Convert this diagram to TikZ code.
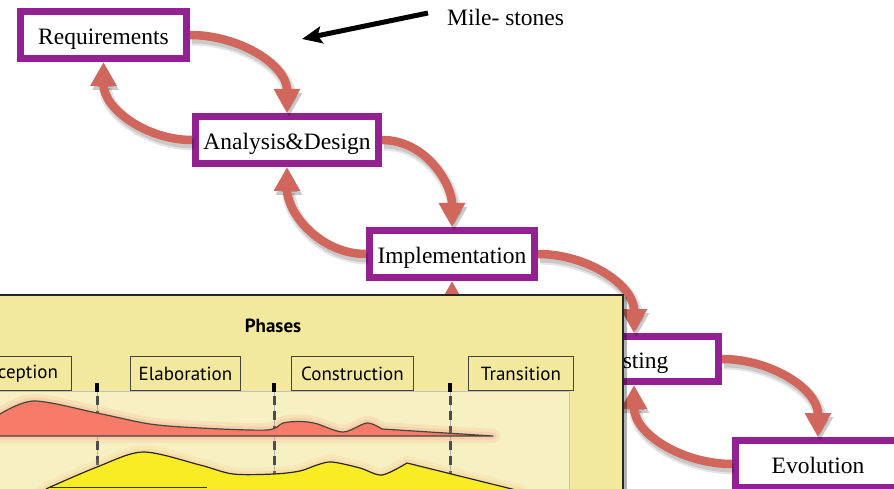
\documentclass[tikz,border=0pt]{standalone}
\usepackage{fontspec}
\setmainfont{Liberation Serif}
\newfontfamily\phasefont{PT Sans}
\usetikzlibrary{arrows.meta}
\definecolor{purp}{RGB}{148,33,145}
\definecolor{redc}{RGB}{208,102,92}
\definecolor{panelc}{RGB}{242,233,158}
\definecolor{innerc}{RGB}{247,240,195}
\definecolor{redfill}{RGB}{248,122,104}
\definecolor{yelfill}{RGB}{250,236,34}
\definecolor{outl}{RGB}{70,70,60}
\begin{document}
\begin{tikzpicture}[x=1pt,y=1pt,
  stage/.style={draw=purp, line width=7pt, fill=white, inner sep=0pt, minimum height=47pt,
    text height=18.5pt, text depth=0pt, font=\fontsize{23.5}{26}\selectfont},
  flow/.style={draw=redc, line width=8.5pt, -{Triangle[length=24pt,width=25pt]},
    preaction={draw=black, opacity=0.10, line width=13pt, transform canvas={shift={(2pt,-4pt)}}},
    preaction={draw=black, opacity=0.12, line width=9pt, transform canvas={shift={(2pt,-4pt)}}}},
  phasebox/.style={draw=outl, line width=1.3pt, fill=panelc, minimum height=33.7pt, inner sep=0pt,
    font=\phasefont\fontsize{19}{21}\selectfont},
  milestone/.style={draw=black, line width=5pt, -{Stealth[length=20pt,width=17pt,inset=4pt]}},
  phaseline/.style={draw=black!70, line width=3pt, dash pattern=on 9pt off 6pt}
]
\useasboundingbox (0,0) rectangle (894,488);

% stages
\node[stage, minimum width=166pt] (req) at (103.5,453) {Requirements};
\node[stage, minimum width=183pt] (ad) at (287,348) {Analysis\&Design};
\node[stage, minimum width=165pt] (impl) at (452,234) {Implementation};
\node[stage, minimum width=169pt, minimum height=45pt] (test) at (634,129) {Testing};
\node[stage, minimum width=165pt] (evo) at (818,24) {Evolution};

% red flow arrows
\draw[flow] (req.east) to[out=0,in=90] (ad.north);
\draw[flow] (ad.west) to[out=180,in=-90] (req.south);
\draw[flow] (ad.east) to[out=0,in=90] (impl.north);
\draw[flow] (impl.west) to[out=180,in=-90] (ad.south);
\draw[flow] (impl.east) to[out=0,in=90] (test.north);
\draw[flow] (test.west) to[out=180,in=-90] (impl.south);
\draw[flow] (test.east) to[out=0,in=90] (evo.north);
\draw[flow] (evo.west) to[out=180,in=-90] (test.south);

% milestones
\node[font=\fontsize{23.5}{26}\selectfont, anchor=west, inner sep=0pt] (ms) at (447,471) {Mile- stones};
\coordinate (msa) at (428,475);
\coordinate (msb) at (302,449);
\draw[milestone] (msa) -- (msb);

% phases panel
\fill[black, opacity=0.3] (-5,-5) rectangle (626.5,191);
\draw[draw=black!85, line width=1.4pt, fill=panelc] (-5,-5) rectangle (623,193);
\draw[draw=black!25, line width=0.6pt, fill=innerc] (-5,-5) rectangle (569,97);
\node[font=\phasefont\bfseries\fontsize{19}{21}\selectfont] (ph) at (273,162) {Phases};

\node[phasebox, minimum width=105.7pt] (inc) at (18.5,114.5) {\hspace*{3pt}Inception};
\node[phasebox, minimum width=109.7pt] (ela) at (185.5,114.5) {Elaboration};
\node[phasebox, minimum width=121.7pt] (con) at (352.5,114.5) {Construction};
\node[phasebox, minimum width=104.7pt] (tra) at (521,114.5) {Transition};

% phase separators
\foreach \xx/\nm in {97/sa, 274/sb, 450/sc} {
  \coordinate (\nm t) at (\xx,105);
  \coordinate (\nm m) at (\xx,96);
  \coordinate (\nm b) at (\xx,8);
  \draw[black!30, line width=0.6pt] (\nm t) -- (\nm b);
  \draw[black, line width=3.5pt] (\nm t) -- (\nm m);
  \draw[phaseline] ([yshift=-4pt]\nm m) -- (\nm b);
}

% red workload shape
\def\myredpath{(-5,52) -- plot[smooth, tension=0.5] coordinates {(-5,71) (33,87) (97,75) (150,64) (200,60) (267,58) (283,65) (300,66.5) (316,64.5) (343,56) (367,65) (382,59)} -- (493,52) -- cycle}
\draw[redfill, opacity=0.12, line width=14pt, line join=round] \myredpath;
\draw[redfill, opacity=0.15, line width=7pt, line join=round] \myredpath;
\draw[fill=redfill, draw=outl, line width=1.2pt, line join=round] \myredpath;

% yellow workload shape
\def\myyelpath{(40,-5) -- plot[smooth, tension=0.5] coordinates {(48,0) (97,21) (143,36) (200,23) (233,14) (274,14) (300,17) (317,23) (332,26) (360,20) (382,13) (407,25)} -- (520,-3) -- cycle}
\draw[orange!60, opacity=0.12, line width=14pt, line join=round] \myyelpath;
\draw[orange!60, opacity=0.15, line width=7pt, line join=round] \myyelpath;
\draw[fill=yelfill, draw=black!85, line width=1.2pt, line join=round] \myyelpath;
\draw[black!80, line width=1.5pt] (48,0.5) -- (207,0.5);
\end{tikzpicture}
\end{document}
